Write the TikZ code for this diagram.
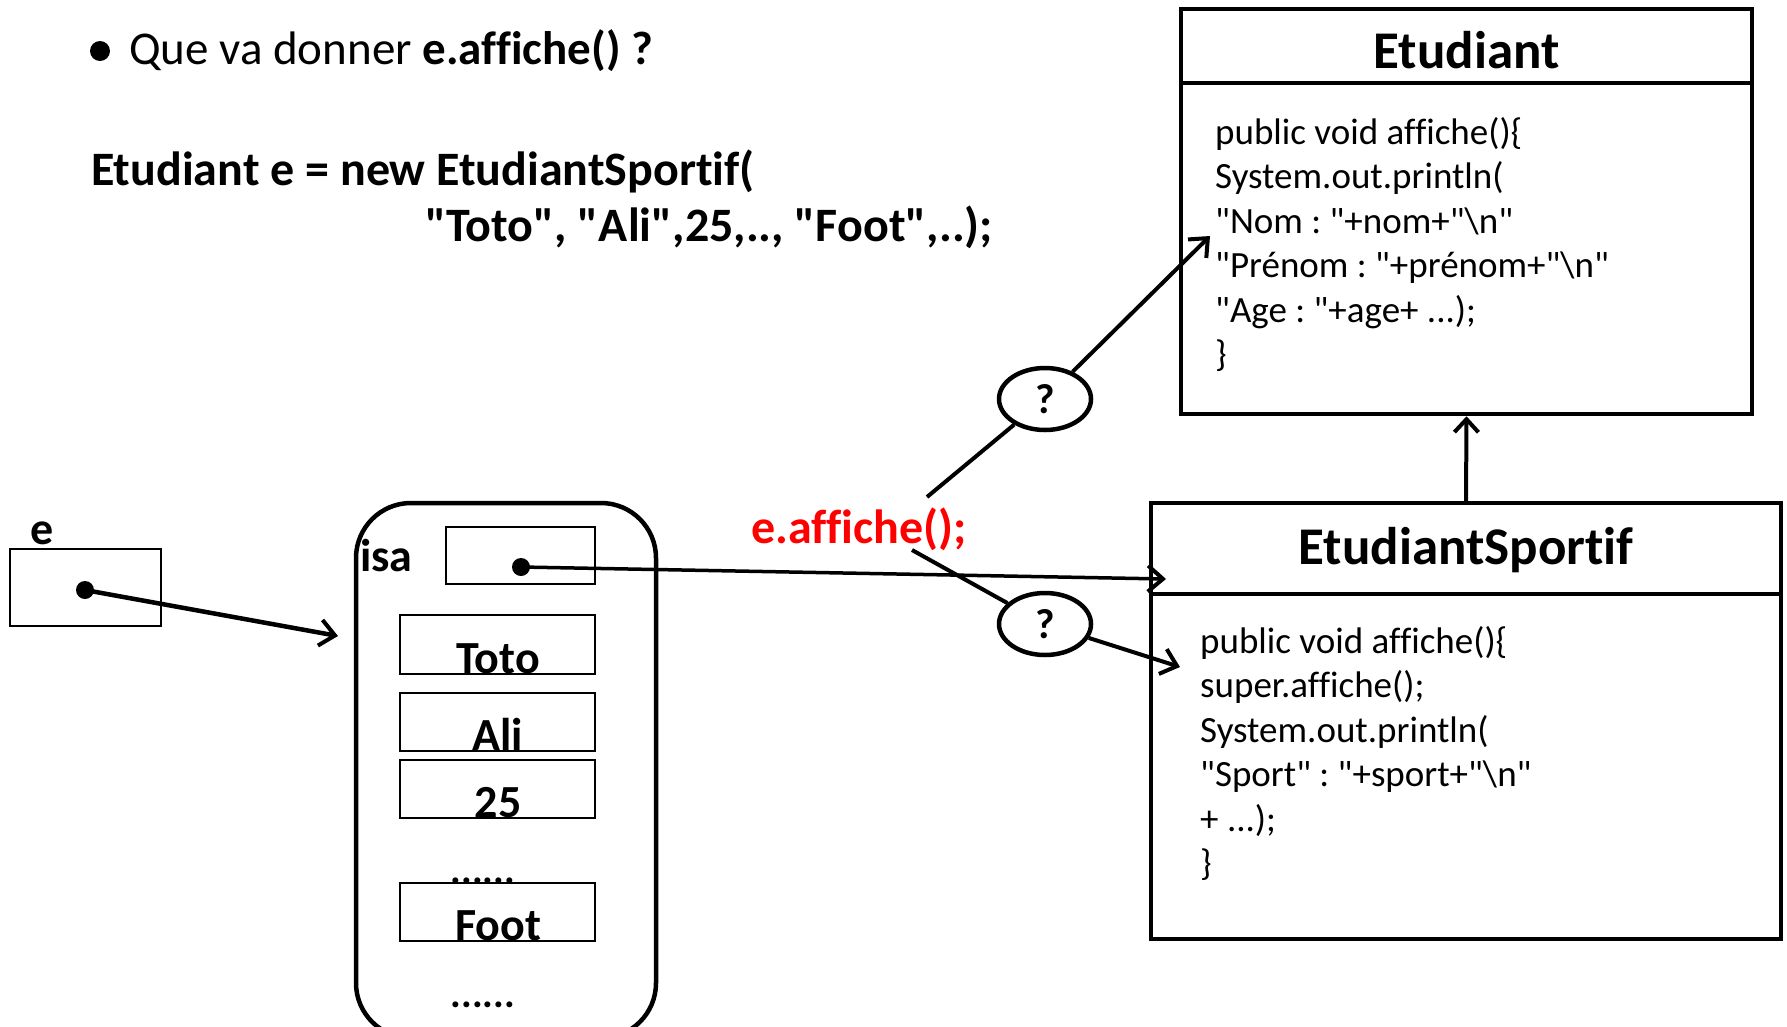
\documentclass[tikz,border=0pt]{standalone}
\usepackage{fontspec}
\setmainfont{Carlito}[Ligatures={TeXOff,CommonOff}]
\usetikzlibrary{arrows.meta,shapes.geometric}
\frenchspacing

\begin{document}
\begin{tikzpicture}[x=1pt,y=-1pt,
  classbox/.style={draw,line width=4.5pt,rectangle,inner sep=0pt},
  cellbox/.style={draw,line width=1.8pt,rectangle,inner sep=0pt},
  objbox/.style={draw,line width=4.5pt,rectangle,rounded corners=55pt,inner sep=0pt},
  titletext/.style={inner sep=0pt,font={\fontsize{53}{60}\selectfont\bfseries}},
  codetext/.style={inner sep=0pt,anchor=base west,font={\fontsize{37}{44}\selectfont}},
  bigtext/.style={inner sep=0pt,anchor=base west,font={\fontsize{47}{54}\selectfont}},
  boldbig/.style={bigtext,font={\fontsize{48}{54}\selectfont\bfseries}},
  celltext/.style={inner sep=0pt,anchor=base,font={\fontsize{46}{52}\selectfont\bfseries}},
  dotnode/.style={circle,fill,inner sep=0pt,minimum size=18pt},
  qbubble/.style={ellipse,draw,line width=4.5pt,inner sep=0pt,minimum width=92pt,minimum height=62pt,
    font={\fontsize{42}{48}\selectfont\bfseries}},
  arr/.style={line width=4pt,-{Straight Barb[length=15pt,width=26pt,line width=4pt]}},
  plain/.style={line width=4pt}]

\useasboundingbox (0,0) rectangle (1787,1026);

% question
\node[dotnode,minimum size=20pt] (bullet) at (100,51) {};
\node[bigtext] (question) at (129,64) {Que va donner \textbf{e.affiche() ?}};
\node[boldbig] (decl1) at (91,185) {Etudiant e = new EtudiantSportif(};
\node[boldbig] (decl2) at (425,241) {"Toto", "Ali",25,.., "Foot",..);};

% class Etudiant
\node[classbox,minimum width=571pt,minimum height=405pt] (etu) at (1466.5,211.5) {};
\draw[line width=4.5pt] (1181,83) -- (1752,83);
\node[titletext,anchor=base] (etuTitle) at (1466.5,68) {Etudiant};
\node[codetext] (e1) at (1215,144) {public void affiche()\{};
\node[codetext] (e2) at (1215,188.5) {System.out.println(};
\node[codetext] (e3) at (1215,233) {"Nom : "+nom+"\textbackslash n"};
\node[codetext] (e4) at (1215,277.5) {"Prénom : "+prénom+"\textbackslash n"};
\node[codetext] (e5) at (1215,322) {"Age : "+age+ ...);};
\node[codetext] (e6) at (1215,366.5) {\}};

% class EtudiantSportif
\node[classbox,minimum width=630pt,minimum height=436pt] (es) at (1466,721) {};
\draw[line width=4.5pt] (1151,594) -- (1781,594);
\node[titletext,anchor=base] (esTitle) at (1466,564) {EtudiantSportif};
\node[codetext] (s1) at (1200,653) {public void affiche()\{};
\node[codetext] (s2) at (1200,697.5) {super.affiche();};
\node[codetext] (s3) at (1200,742) {System.out.println(};
\node[codetext] (s4) at (1200,786.5) {"Sport" : "+sport+"\textbackslash n"};
\node[codetext] (s5) at (1200,831) {+ ...);};
\node[codetext] (s6) at (1200,875.5) {\}};

% inheritance
\draw[line width=4pt,-{Straight Barb[length=13pt,width=24pt,line width=4pt]}] (es.north) -- (etu.south);

% reference e
\node[celltext,anchor=base west] (eLabel) at (30,544) {e};
\node[cellbox,minimum width=151pt,minimum height=77pt] (ebox) at (85.5,587.5) {};
\node[dotnode] (edot) at (85,590) {};

% object
\node[objbox,minimum width=300pt,minimum height=535pt] (obj) at (506,770.5) {};
\node[celltext,anchor=base west] (isaLabel) at (360,571) {isa};
\node[cellbox,minimum width=149pt,minimum height=57pt] (isabox) at (520.5,555.5) {};
\node[dotnode] (isadot) at (521,567) {};
\node[cellbox,minimum width=195pt,minimum height=59pt] (c1) at (497.5,644.5) {};
\node[celltext] (t1) at (498,673) {Toto};
\node[cellbox,minimum width=195pt,minimum height=58pt] (c2) at (497.5,722) {};
\node[celltext] (t2) at (498,750) {Ali};
\node[cellbox,minimum width=195pt,minimum height=58pt] (c3) at (497.5,789) {};
\node[celltext] (t3) at (498,817) {25};
\node[celltext,font={\fontsize{40}{46}\selectfont\bfseries}] (dots1) at (483,883) {......};
\node[cellbox,minimum width=195pt,minimum height=58pt] (c4) at (497.5,912) {};
\node[celltext] (t4) at (498,940) {Foot};
\node[celltext,font={\fontsize{40}{46}\selectfont\bfseries}] (dots2) at (483,1007) {......};

\coordinate (objIn) at (338,636);
\draw[arr,line width=4.5pt] (edot.center) -- (objIn);

\coordinate (esIn) at (1166,579);
\draw[arr,line width=3.5pt] (isadot.center) -- (esIn);

% call and the two candidate methods
\node[boldbig,text=red] (call) at (751,543) {e.affiche();};
\node[qbubble] (q1) at (1045,399) {?};
\node[qbubble] (q2) at (1045,624) {?};
\coordinate (upStart) at (927,497);
\coordinate (lowStart) at (912,550);
\coordinate (etuIn) at (1210,236);
\coordinate (esMeth) at (1180,667);
\draw[plain] (upStart) -- (q1);
\draw[arr] (q1) -- (etuIn);
\draw[plain] (lowStart) -- (q2);
\draw[arr] (q2) -- (esMeth);

\end{tikzpicture}
\end{document}
